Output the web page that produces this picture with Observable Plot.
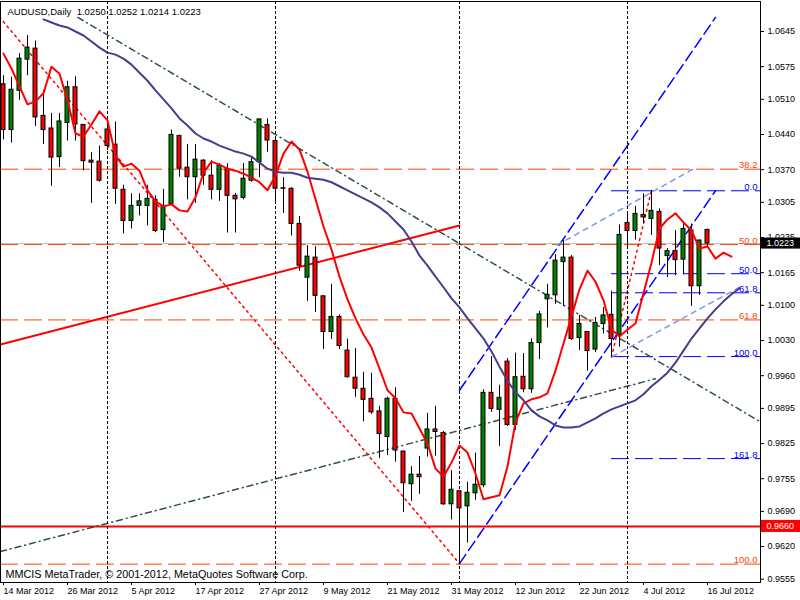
<!DOCTYPE html>
<html><head><meta charset="utf-8">
<script src="https://cdn.jsdelivr.net/npm/d3@7"></script>
<script src="https://cdn.jsdelivr.net/npm/@observablehq/plot@0.6"></script>
<style>html,body{margin:0;padding:0;background:#fff;}</style>
</head><body><div id="chart"></div>
<script>
const dates = [
"2012-03-14","2012-03-15","2012-03-16","2012-03-19","2012-03-20","2012-03-21","2012-03-22","2012-03-23","2012-03-26","2012-03-27","2012-03-28","2012-03-29","2012-03-30",
"2012-04-02","2012-04-03","2012-04-04","2012-04-05","2012-04-06","2012-04-09","2012-04-10","2012-04-11","2012-04-12","2012-04-13","2012-04-16","2012-04-17","2012-04-18","2012-04-19","2012-04-20","2012-04-23","2012-04-24","2012-04-25","2012-04-26","2012-04-27","2012-04-30",
"2012-05-01","2012-05-02","2012-05-03","2012-05-04","2012-05-07","2012-05-08","2012-05-09","2012-05-10","2012-05-11","2012-05-14","2012-05-15","2012-05-16","2012-05-17","2012-05-18","2012-05-21","2012-05-22","2012-05-23","2012-05-24","2012-05-25","2012-05-28","2012-05-29","2012-05-30","2012-05-31",
"2012-06-01","2012-06-04","2012-06-05","2012-06-06","2012-06-07","2012-06-08","2012-06-11","2012-06-12","2012-06-13","2012-06-14","2012-06-15","2012-06-18","2012-06-19","2012-06-20","2012-06-21","2012-06-22","2012-06-25","2012-06-26","2012-06-27","2012-06-28","2012-06-29",
"2012-07-02","2012-07-03","2012-07-04","2012-07-05","2012-07-06","2012-07-09","2012-07-10","2012-07-11","2012-07-12","2012-07-13","2012-07-16"];

const open = [1.0540,1.0449,1.0527,1.0589,1.0611,1.0477,1.0452,1.0395,1.0463,1.0534,1.0459,1.0388,1.0386,
1.0450,1.0420,1.0330,1.0268,1.0298,1.0298,1.0310,1.0250,1.0301,1.0437,1.0374,1.0355,1.0388,1.0358,1.0330,1.0371,1.0318,1.0314,1.0348,1.0385,1.0459,
1.0427,1.0333,1.0332,1.0262,1.0155,1.0195,1.0118,1.0047,1.0077,1.0010,0.9956,0.9934,0.9914,0.9889,0.9838,0.9914,0.9809,0.9744,0.9763,0.9815,0.9853,0.9846,0.9704,
0.9730,0.9700,0.9726,0.9742,0.9926,0.9892,0.9988,0.9862,0.9958,0.9933,1.0025,1.0112,1.0120,1.0186,1.0195,1.0035,1.0047,1.0012,1.0063,1.0081,1.0041,
1.0264,1.0248,1.0280,1.0272,1.0286,1.0198,1.0208,1.0191,1.0249,1.0138,1.0250];
const high = [1.0557,1.0554,1.0601,1.0637,1.0626,1.0528,1.0482,1.0482,1.0546,1.0555,1.0460,1.0404,1.0417,
1.0464,1.0465,1.0339,1.0322,1.0322,1.0339,1.0318,1.0331,1.0449,1.0439,1.0420,1.0420,1.0390,1.0388,1.0382,1.0382,1.0323,1.0382,1.0395,1.0471,1.0471,
1.0430,1.0354,1.0334,1.0277,1.0219,1.0217,1.0119,1.0142,1.0081,1.0033,1.0014,0.9967,0.9965,0.9899,0.9917,0.9936,0.9810,0.9779,0.9799,0.9885,0.9899,0.9849,0.9771,
0.9731,0.9748,0.9806,0.9932,0.9998,0.9941,0.9994,1.0005,1.0004,1.0033,1.0088,1.0142,1.0201,1.0229,1.0199,1.0080,1.0048,1.0076,1.0096,1.0128,1.0260,
1.0281,1.0297,1.0322,1.0329,1.0292,1.0213,1.0249,1.0266,1.0262,1.0230,1.0252];
const low = [1.0429,1.0423,1.0508,1.0557,1.0456,1.0420,1.0337,1.0374,1.0427,1.0427,1.0368,1.0303,1.0345,
1.0408,1.0301,1.0242,1.0252,1.0278,1.0258,1.0245,1.0225,1.0299,1.0355,1.0310,1.0303,1.0339,1.0310,1.0307,1.0244,1.0244,1.0310,1.0345,1.0354,1.0405,
1.0305,1.0283,1.0238,1.0168,1.0108,1.0086,1.0012,1.0032,1.0012,0.9955,0.9917,0.9868,0.9883,0.9795,0.9801,0.9788,0.9688,0.9710,0.9724,0.9798,0.9800,0.9702,0.9673,
0.9586,0.9627,0.9712,0.9737,0.9887,0.9819,0.9859,0.9851,0.9926,0.9925,0.9992,1.0055,1.0102,1.0098,1.0030,1.0010,0.9969,1.0006,1.0043,0.9997,1.0017,
1.0213,1.0230,1.0262,1.0239,1.0179,1.0155,1.0159,1.0161,1.0098,1.0120,1.0214];
const close = [1.0449,1.0529,1.0591,1.0613,1.0474,1.0449,1.0394,1.0466,1.0534,1.0460,1.0387,1.0384,1.0348,
1.0417,1.0332,1.0268,1.0298,1.0307,1.0312,1.0248,1.0298,1.0439,1.0372,1.0355,1.0390,1.0358,1.0330,1.0378,1.0318,1.0311,1.0352,1.0385,1.0470,1.0428,
1.0332,1.0332,1.0262,1.0179,1.0197,1.0119,1.0047,1.0077,1.0019,0.9957,0.9934,0.9912,0.9887,0.9844,0.9914,0.9811,0.9746,0.9763,0.9758,0.9853,0.9848,0.9704,0.9733,
0.9696,0.9727,0.9743,0.9926,0.9894,0.9916,0.9862,0.9957,0.9933,1.0025,1.0082,1.0121,1.0189,1.0195,1.0033,1.0063,1.0009,1.0065,1.0080,1.0033,1.0240,
1.0248,1.0282,1.0275,1.0288,1.0213,1.0208,1.0190,1.0252,1.0138,1.0229,1.0223];

// red shifted moving average, one value per bar slot from the first bar (runs 3 slots past the last bar)
const redMA = [1.0601,1.0571,1.0536,1.0500,1.0506,1.0522,1.0575,1.0561,1.0508,1.0442,
1.0436,1.0460,1.0486,1.0468,1.0398,1.0376,1.0382,1.0368,1.0329,1.0307,
1.0297,1.0301,1.0289,1.0287,1.0315,1.0364,1.0386,1.0380,1.0372,1.0368,
1.0362,1.0354,1.0345,1.0329,1.0358,1.0402,1.0426,1.0410,1.0366,1.0311,
1.0257,1.0211,1.0157,1.0112,1.0074,1.0042,1.0016,0.9974,0.9931,0.9915,
0.9887,0.9885,0.9855,0.9825,0.9775,0.9759,0.9787,0.9821,0.9807,0.9765,
0.9714,0.9718,0.9722,0.9779,0.9867,0.9905,0.9913,0.9917,0.9925,0.9970,
1.0024,1.0078,1.0132,1.0169,1.0147,1.0110,1.0052,1.0038,1.0052,1.0064,
1.0124,1.0185,1.0253,1.0271,1.0283,1.0265,1.0249,1.0213,1.0217,1.0193,
1.0205,1.0197];
// purple shifted moving average, starting at bar slot 5
const purpleStart = 5;
const purpleMA = [1.0669,1.0663,1.0657,1.0653,1.0645,1.0637,1.0625,1.0613,1.0603,1.0599,
1.0591,1.0579,1.0563,1.0547,1.0528,1.0510,1.0492,1.0472,1.0458,1.0442,
1.0432,1.0426,1.0418,1.0412,1.0406,1.0402,1.0396,1.0384,1.0372,1.0366,
1.0364,1.0364,1.0360,1.0354,1.0352,1.0350,1.0345,1.0337,1.0329,1.0321,
1.0313,1.0305,1.0295,1.0283,1.0267,1.0251,1.0227,1.0199,1.0179,1.0157,
1.0136,1.0114,1.0096,1.0074,1.0054,1.0034,1.0008,0.9978,0.9950,0.9927,
0.9911,0.9891,0.9879,0.9871,0.9861,0.9857,0.9857,0.9859,0.9867,0.9875,
0.9885,0.9893,0.9899,0.9905,0.9911,0.9923,0.9939,0.9952,0.9966,0.9986,
1.0010,1.0034,1.0054,1.0074,1.0092,1.0108,1.0122,1.0134];

const priceTicks = [1.0645,1.0575,1.0510,1.0440,1.0370,1.0305,1.0235,1.0165,1.0100,1.0030,0.9960,0.9895,0.9825,0.9755,0.9690,0.9620,0.9555];
const dateTickIdx = [0,8,16,24,32,40,48,56,64,72,80,88];
const dateTickLabels = ["14 Mar 2012","26 Mar 2012","5 Apr 2012","17 Apr 2012","27 Apr 2012","9 May 2012","21 May 2012","31 May 2012","12 Jun 2012","22 Jun 2012","4 Jul 2012","16 Jul 2012"];
const monthStarts = ["2012-04-02","2012-05-01","2012-06-01","2012-07-02"];

const orangeFibLabels = ["38.2","50.0","61.8","100.0"];
const orangeFibPrices = [1.0371,1.0221,1.0071,0.9585];
const blueFibLabels = ["0.0","50.0","61.8","100.0","161.8"];
const blueFibPrices = [1.0328,1.0163,1.0125,0.9998,0.9795];
const blueFibFrom = "2012-06-28";
const supportLevel = 0.9660;

// drawn objects: [bar slot, price] pairs
const redTrend = [[-0.375,1.0022],[57,1.0259]];
const grayDown = [[9.3,1.0673],[94.625,0.9868]];
const grayUp = [[-0.375,0.9610],[81.5,0.9954]];
const redDiag1 = [[-1,1.0683],[57,0.9586]];
const redDiag2 = [[76,0.9997],[81,1.0329]];
const blueA = [[57,0.9586],[89,1.0328]];
const blueB = [[57,0.9931],[89,1.0673]];
const lightC = [[69.2,1.0220],[86.3,1.0372]];
const lightD = [[76.1,0.9998],[92.25,1.0138]];

const candles = dates.map((d,i)=>({i, o:open[i], h:high[i], l:low[i], c:close[i]}));
const last = candles[candles.length-1];
const redPts = redMA.map((p,k)=>({k,p}));
const purplePts = purpleMA.map((p,j)=>({k:j+purpleStart,p}));
const pts = a => a.map(([k,p])=>({k,p}));
const orangeFib = orangeFibLabels.map((l,i)=>({l,p:orangeFibPrices[i]}));
const blueFib = blueFibLabels.map((l,i)=>({l,p:blueFibPrices[i]}));
const sepIdx = monthStarts.map(d=>dates.indexOf(d));
const blueX1 = dates.indexOf(blueFibFrom);
const XR = 94.625;

const line = (a, o) => Plot.line(pts(a), {x:"k", y:"p", clip:true, ...o});

const title = `AUDUSD,Daily\u00a0\u00a0${last.o.toFixed(4)} ${last.h.toFixed(4)} ${last.l.toFixed(4)} ${last.c.toFixed(4)}`;

const chart = Plot.plot({
  width:800, height:600,
  marginLeft:0, marginRight:40, marginTop:1, marginBottom:18,
  x:{type:"linear", domain:[-0.375, XR], axis:null},
  y:{type:"linear", domain:[0.954844, 1.070470], axis:null},
  style:{fontFamily:"'Liberation Sans', Arial, sans-serif", fontSize:"9px", background:"white", color:"black", overflow:"visible"},
  marks:[
    Plot.ruleY(orangeFib, {y:"p", stroke:"#FF4500", strokeDasharray:"18,6"}),
    Plot.ruleY([last.c], {stroke:"#C0C0C0"}),
    Plot.ruleY(blueFib, {y:"p", x1:blueX1, x2:XR, stroke:"#0000FF", strokeDasharray:"18,6"}),
    Plot.ruleY([supportLevel], {stroke:"#FF0000", strokeWidth:2}),
    line(grayDown, {stroke:"#2F4F4F", strokeDasharray:"6,4,1,4"}),
    line(grayUp, {stroke:"#2F4F4F", strokeDasharray:"6,4,1,4"}),
    line(redDiag1, {stroke:"#FF0000", strokeDasharray:"2,4"}),
    line(redDiag2, {stroke:"#FF0000", strokeDasharray:"2,4"}),
    line(blueA, {stroke:"#0000FF", strokeDasharray:"11,5"}),
    line(blueB, {stroke:"#0000FF", strokeDasharray:"11,5"}),
    line(lightC, {stroke:"#7B96F0", strokeDasharray:"5,5"}),
    line(lightD, {stroke:"#7B96F0", strokeDasharray:"5,5"}),
    line(redTrend, {stroke:"#FF0000", strokeWidth:2}),
    Plot.ruleX(sepIdx, {stroke:"black", strokeDasharray:"3,2"}),
    Plot.ruleX(candles, {x:"i", y1:"l", y2:"h", stroke:"black"}),
    Plot.rect(candles, {x1:d=>d.i-0.25, x2:d=>d.i+0.25, y1:"o", y2:"c",
      fill:d=>d.c>=d.o?"#008000":"#FF0000", stroke:"black", strokeWidth:1}),
    Plot.line(redPts, {x:"k", y:"p", stroke:"#FF0000", strokeWidth:2, clip:true}),
    Plot.line(purplePts, {x:"k", y:"p", stroke:"#483D8B", strokeWidth:2, clip:true}),
    Plot.text(orangeFib, {x:XR, y:"p", text:"l", fill:"#FF4500", fontSize:9.5, textAnchor:"end", lineAnchor:"bottom", dx:-3, dy:-1}),
    Plot.text(blueFib, {x:XR, y:"p", text:"l", fill:"#0000FF", fontSize:9.5, textAnchor:"end", lineAnchor:"bottom", dx:-3, dy:-1}),
    Plot.text([title], {frameAnchor:"top-left", text:d=>d, fontSize:9.5, textAnchor:"start", lineAnchor:"middle", dx:7, dy:10}),
    Plot.text(["MMCIS MetaTrader, \u00a9 2001-2012, MetaQuotes Software Corp."], {frameAnchor:"bottom-left", text:d=>d, fontSize:10.8, textAnchor:"start", lineAnchor:"middle", dx:5, dy:-8}),
    Plot.axisY(priceTicks, {anchor:"right", tickSize:3, tickPadding:4, tickFormat:d=>d.toFixed(4)}),
    Plot.axisX(dateTickIdx, {anchor:"bottom", tickSize:3, tickPadding:2, textAnchor:"start", tickFormat:i=>dateTickLabels[dateTickIdx.indexOf(i)]}),
    Plot.rect([last.c], {x1:94.75, x2:100, y1:d=>d+0.0011, y2:d=>d-0.0011, fill:"black", clip:false}),
    Plot.text([last.c], {x:XR, y:d=>d, text:d=>d.toFixed(4), fill:"white", textAnchor:"start", dx:6}),
    Plot.rect([supportLevel], {x1:94.75, x2:100, y1:d=>d+0.0012, y2:d=>d-0.0012, fill:"#FF0000", clip:false}),
    Plot.text([supportLevel], {x:XR, y:d=>d, text:d=>d.toFixed(4), fill:"white", textAnchor:"start", dx:6}),
    Plot.frame({stroke:"black"})
  ]
});
document.getElementById("chart").appendChild(chart);
</script>
</body></html>
